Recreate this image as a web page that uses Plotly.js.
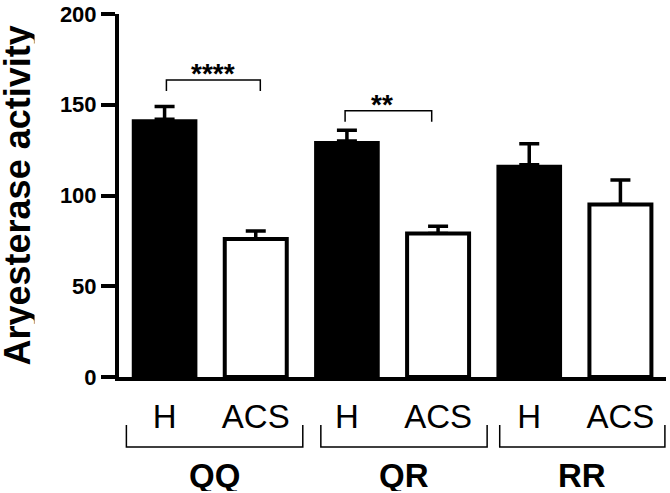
<!DOCTYPE html>
<html>
<head>
<meta charset="utf-8">
<script src="https://cdn.plot.ly/plotly-3.0.1.min.js"></script>
<style>html,body{margin:0;padding:0;background:#fff;}#chart{width:670px;height:493px;}</style>
</head>
<body>
<div id="chart"></div>
<script>
// ---- data ----
var groups = ["QQ", "QR", "RR"];
var conditions = ["H", "ACS"];
var hValues = [142, 130, 117];
var hErrors = [7, 6, 11.5];
var acsValues = [76, 79, 95];
var acsErrors = [4.5, 4, 13.5];
var yTicks = [0, 50, 100, 150, 200];
var yTitle = "Aryesterase activity";
var sigLabels = ["****", "**"];
var sigGroups = [0, 1];

// ---- build ----
var hX = groups.map(function (g, i) { return 2 * i; });
var acsX = groups.map(function (g, i) { return 2 * i + 1; });
var tickVals = [], tickText = [];
groups.forEach(function (g, i) {
  conditions.forEach(function (c, j) { tickVals.push(2 * i + j); tickText.push(c); });
});
var FONT = "Liberation Sans, Arial, Helvetica, sans-serif";
function zeros(a) { return a.map(function () { return 0; }); }
function errSpec(arr) {
  return { type: "data", symmetric: false, array: arr, arrayminus: zeros(arr),
           color: "#000000", thickness: 3.5, width: 10 };
}

// error bars first (transparent bars), so the visible bars cover the lower caps
var errH = { type: "bar", x: hX, y: hValues, width: 0.72,
  marker: { color: "rgba(0,0,0,0)", line: { width: 0 } },
  error_y: errSpec(hErrors), hoverinfo: "skip", showlegend: false };
var errACS = { type: "bar", x: acsX, y: acsValues, width: 0.68,
  marker: { color: "rgba(0,0,0,0)", line: { width: 0 } },
  error_y: errSpec(acsErrors), hoverinfo: "skip", showlegend: false };

var traceH = {
  type: "bar", x: hX, y: hValues, width: 0.72,
  marker: { color: "#000000", line: { width: 0 } },
  hoverinfo: "skip", showlegend: false
};
var traceACS = {
  type: "bar", x: acsX, y: acsValues, width: 0.68,
  marker: { color: "#ffffff", line: { color: "#000000", width: 4 } },
  hoverinfo: "skip", showlegend: false
};

var shapes = [], annotations = [];
// significance brackets
var sigTop = [163.6, 146.7];
sigGroups.forEach(function (gi, k) {
  var top = sigTop[k];
  var x0 = hX[gi] + (k === 0 ? 0.02 : -0.02);
  var x1 = acsX[gi] + (k === 0 ? 0.05 : -0.07);
  shapes.push({ type: "path", xref: "x", yref: "y",
    path: "M" + x0 + "," + (top - 6) + " L" + x0 + "," + top + " L" + x1 + "," + top + " L" + x1 + "," + (top - 6),
    line: { color: "#000", width: 1.5 } });
  annotations.push({ xref: "x", yref: "y", x: (x0 + x1) / 2 + (k === 0 ? 0.0 : -0.07), y: top - 6,
    xanchor: "center", yanchor: "bottom", text: sigLabels[k], showarrow: false,
    font: { family: FONT, size: 28, weight: "bold", color: "#000" } });
});
// group brackets under the axis
var bracketSpans = [[0.0135, 0.336], [0.369, 0.673], [0.696, 0.998]];
bracketSpans.forEach(function (s, i) {
  shapes.push({ type: "path", xref: "paper", yref: "paper",
    path: "M" + s[0] + ",-0.132 L" + s[0] + ",-0.193 L" + s[1] + ",-0.193 L" + s[1] + ",-0.132",
    line: { color: "#000", width: 1.5 } });
  annotations.push({ xref: "paper", yref: "paper", x: (s[0] + s[1]) / 2, y: -0.271,
    xanchor: "center", yanchor: "middle",
    text: groups[i], showarrow: false, height: 32, valign: "middle",
    font: { family: FONT, size: 33, weight: "bold", color: "#000" } });
});
// y-axis title
annotations.push({ xref: "paper", yref: "paper", x: 0, y: 0.5, xshift: -102,
  xanchor: "center", yanchor: "middle", textangle: -90, text: yTitle, showarrow: false,
  height: 34, valign: "middle",
  font: { family: FONT, size: 36, weight: "bold", color: "#000" } });

var layout = {
  width: 670, height: 493,
  margin: { l: 119, r: 4, t: 14, b: 116 },
  paper_bgcolor: "#fff", plot_bgcolor: "#fff",
  barmode: "overlay",
  font: { family: FONT, color: "#000" },
  xaxis: {
    range: [-0.5, 5.5], showgrid: false, zeroline: false,
    showline: true, linecolor: "#000", linewidth: 4,
    tickvals: tickVals, ticktext: tickText, ticks: "",
    ticklabelstandoff: 7,
    tickfont: { family: FONT, size: 33, color: "#000" }
  },
  yaxis: {
    range: [0, 200], showgrid: false, zeroline: false,
    showline: true, linecolor: "#000", linewidth: 4,
    tickvals: yTicks, ticks: "outside", ticklen: 14, tickwidth: 4, tickcolor: "#000",
    tickfont: { family: FONT, size: 22, weight: "bold", color: "#000" }
  },
  shapes: shapes,
  annotations: annotations
};

Plotly.newPlot("chart", [errH, errACS, traceH, traceACS], layout, { staticPlot: true, displayModeBar: false });
</script>
</body>
</html>
